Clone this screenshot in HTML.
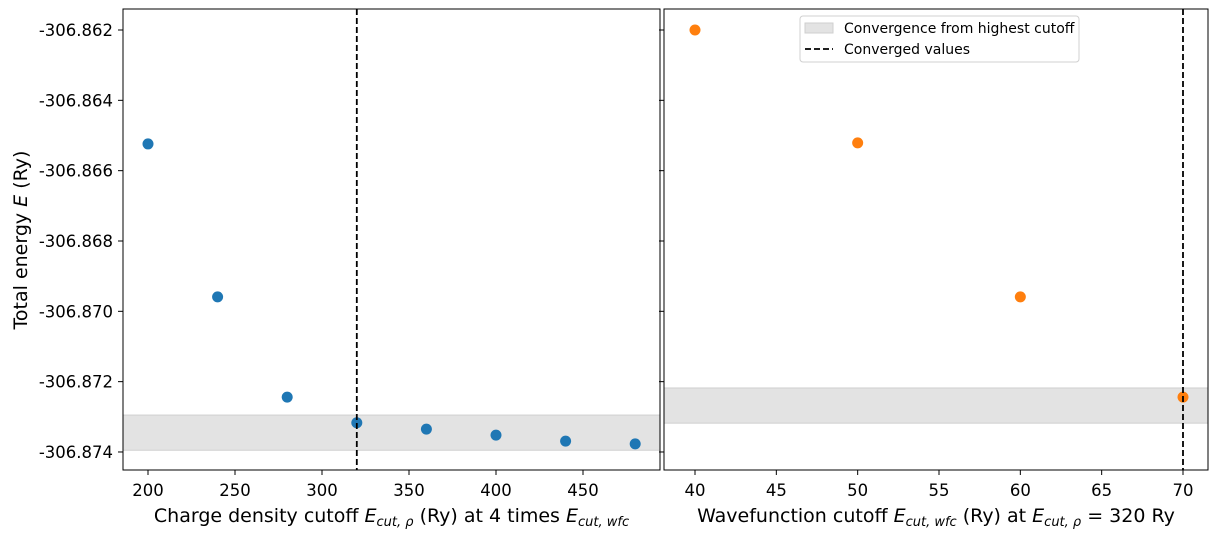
<!DOCTYPE html>
<html><head><meta charset="utf-8"><style>
body{margin:0;background:#fff;width:1217px;height:540px;overflow:hidden;font-family:"DejaVu Sans","Liberation Sans",sans-serif}
</style></head><body>
<svg id="c" width="1217" height="540" xmlns="http://www.w3.org/2000/svg"></svg>
<script>
const leftX=[200,240,280,320,360,400,440,480];
const leftE=[-306.86524,-306.86959,-306.87244,-306.87317,-306.87335,-306.87352,-306.87369,-306.87377];
const rightX=[40,50,60,70];
const rightE=[-306.862,-306.86521,-306.86959,-306.87244];
const yTicks=[-306.862,-306.864,-306.866,-306.868,-306.870,-306.872,-306.874];
const leftTicks=[200,250,300,350,400,450];
const rightTicks=[40,45,50,55,60,65,70];
const leftBandCenter=-306.87345, rightBandCenter=-306.87268;
const leftConv=320, rightConv=70, tol=0.0005;
const svg=document.getElementById('c');
const NS='http://www.w3.org/2000/svg';
function el(t,a,p){const e=document.createElementNS(NS,t);for(const k in a)e.setAttribute(k,a[k]);(p||svg).appendChild(e);return e;}
const yS=v=>30+(-306.862-v)/0.002*70.33;
const pTop=9,pBot=470;
function panel(name,x0,x1,xs,ticks,xv,ev,conv,color,bandRef,label,showY){
  const g=el('g',{});
  
  
  const b=bandRef, yb1=yS(b+tol), yb2=yS(b-tol);
  const band=el('rect',{x:x0,y:yb1,width:x1-x0,height:yb2-yb1,fill:'#e3e3e3',stroke:'#cfcfcf','stroke-width':1},g);
  
  
  xv.forEach((x,i)=>{const c=el('circle',{cx:xs(x),cy:yS(ev[i]),r:5.5,fill:color},g);
    
    });
  const ln=el('line',{x1:xs(conv),x2:xs(conv),y1:pTop,y2:pBot,stroke:'#000','stroke-width':1.8,'stroke-dasharray':'6,3'},g);
  
  
  el('rect',{x:x0,y:pTop,width:x1-x0,height:pBot-pTop,fill:'none',stroke:'#000','stroke-width':1},g);
  ticks.forEach(t=>{const x=xs(t);el('line',{x1:x,x2:x,y1:pBot,y2:pBot+5,stroke:'#000'},g);
    const tx=el('text',{x:x,y:pBot+26,'text-anchor':'middle','font-size':16.5},g);tx.textContent=t;
    
    });
  yTicks.forEach(t=>{const y=yS(t);el('line',{x1:x0-5,x2:x0,y1:y,y2:y,stroke:'#000'},g);
    if(showY){const tx=el('text',{x:x0-10,y:y+6,'text-anchor':'end','font-size':16.5},g);tx.textContent=t.toFixed(3);
    
    }});
  const xl=el('text',{x:(x0+x1)/2,y:522,'text-anchor':'middle','font-size':19},g);xl.innerHTML=label;
  
  
}
panel('left-panel',123,660,v=>148+(v-200)*435/250,leftTicks,leftX,leftE,leftConv,'#1f77b4',leftBandCenter,
 'Charge density cutoff <tspan font-style="italic">E</tspan><tspan font-size="13" dy="4" font-style="italic">cut, ρ</tspan><tspan dy="-4"> (Ry) at 4 times </tspan><tspan font-style="italic">E</tspan><tspan font-size="13" dy="4" font-style="italic">cut, wfc</tspan>',true);
panel('right-panel',664,1208,v=>695+(v-40)*488/30,rightTicks,rightX,rightE,rightConv,'#ff7f0e',rightBandCenter,
 'Wavefunction cutoff <tspan font-style="italic">E</tspan><tspan font-size="13" dy="4" font-style="italic">cut, wfc</tspan><tspan dy="-4"> (Ry) at </tspan><tspan font-style="italic">E</tspan><tspan font-size="13" dy="4" font-style="italic">cut, ρ</tspan><tspan dy="-4"> = 320 Ry</tspan>',false);
const yl=el('text',{x:27,y:240,'text-anchor':'middle','font-size':19,transform:'rotate(-90 27 240)'});
yl.innerHTML='Total energy <tspan font-style="italic">E</tspan> (Ry)';


const lg=el('g',{});


el('rect',{x:800,y:16,width:279,height:46,rx:3,fill:'#fff',stroke:'#d0d0d0'},lg);
el('rect',{x:805,y:23,width:28,height:10,fill:'#e3e3e3',stroke:'#cfcfcf'},lg);
el('line',{x1:805,x2:833,y1:49,y2:49,stroke:'#000','stroke-width':1.8,'stroke-dasharray':'6,3'},lg);
const t1=el('text',{x:844,y:33,'font-size':14},lg);t1.textContent='Convergence from highest cutoff';


const t2=el('text',{x:844,y:54,'font-size':14},lg);t2.textContent='Converged values';


</script>
</body></html>
